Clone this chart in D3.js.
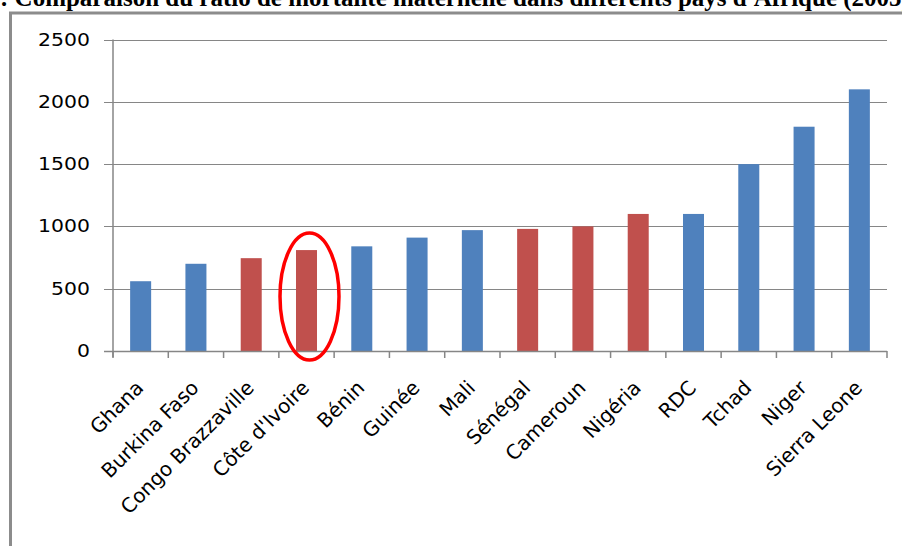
<!DOCTYPE html>
<html><head><meta charset="utf-8">
<script src="https://cdn.jsdelivr.net/npm/d3@7/dist/d3.min.js"></script>
<style>body{margin:0;background:#fff;}svg{display:block;}</style>
</head><body>
<svg id="c" width="902" height="546"></svg>
<script>
const categories = ["Ghana","Burkina Faso","Congo Brazzaville","Côte d'Ivoire","Bénin","Guinée","Mali","Sénégal","Cameroun","Nigéria","RDC","Tchad","Niger","Sierra Leone"];
const values = [560,700,745,810,840,910,970,980,1000,1100,1100,1500,1800,2100];
const highlighted = ["Congo Brazzaville","Côte d'Ivoire","Sénégal","Cameroun","Nigéria"];
const circled = "Côte d'Ivoire";
const yTicks = [0,500,1000,1500,2000,2500];
const title = ": Comparaison du ratio de mortalité maternelle dans différents pays d'Afrique (2005)";

const svg = d3.select("#c");
const L = 113, R = 887, T = 39.5, B = 351;
const x = d3.scaleBand().domain(categories).range([L, R]).paddingInner(0.62).paddingOuter(0.31);
const y = d3.scaleLinear().domain([0, 2500]).range([B, T]);
const grey = "#868686";

// title (clipped at top, as in the reference)
svg.append("text").attr("x", 0).attr("y", 6)
  .attr("font-family", "Liberation Serif, Times New Roman, serif")
  .attr("font-weight", "bold").attr("font-size", 25)
  .text(title);

// frame
svg.append("path").attr("d", "M10.5,546 V13 H905").attr("fill", "none")
  .attr("stroke", "#8c8c8c").attr("stroke-width", 3);

// gridlines + y ticks
svg.append("g").selectAll("line").data(yTicks.filter(d => d > 0)).join("line")
  .attr("x1", L - 9).attr("x2", R).attr("y1", d => Math.round(y(d)) + 0.5).attr("y2", d => Math.round(y(d)) + 0.5)
  .attr("stroke", grey).attr("stroke-width", 1);

// y tick labels
svg.append("g").selectAll("text").data(yTicks).join("text")
  .attr("transform", d => `translate(90,${y(d) + 6}) scale(1.2,1)`)
  .attr("text-anchor", "end")
  .attr("font-family", "DejaVu Sans, sans-serif").attr("font-size", 17).attr("fill", "#000")
  .text(d => d);

// bars
svg.append("g").selectAll("rect").data(categories).join("rect")
  .attr("x", d => x(d)).attr("width", x.bandwidth())
  .attr("y", (d, i) => y(values[i])).attr("height", (d, i) => B - y(values[i]))
  .attr("fill", d => highlighted.includes(d) ? "#C0504D" : "#4F81BD");

// axes lines
svg.append("line").attr("x1", L).attr("x2", L).attr("y1", T).attr("y2", B + 6).attr("stroke", grey).attr("stroke-width", 1.5);
svg.append("line").attr("x1", L - 9).attr("x2", R).attr("y1", B + 0.5).attr("y2", B + 0.5).attr("stroke", grey).attr("stroke-width", 1.5);
// x ticks at band boundaries
const bounds = d3.range(categories.length + 1).map(i => L + i * (R - L) / categories.length);
svg.append("g").selectAll("line").data(bounds).join("line")
  .attr("x1", d => d).attr("x2", d => d).attr("y1", B).attr("y2", B + 7)
  .attr("stroke", grey).attr("stroke-width", 1.5);

// x labels
svg.append("g").selectAll("text").data(categories).join("text")
  .attr("transform", d => `translate(${x(d) + x.bandwidth() / 2 + 4},${B + 38}) rotate(-45)`)
  .attr("text-anchor", "end")
  .attr("font-family", "DejaVu Sans, sans-serif").attr("font-size", 20).attr("fill", "#000")
  .text(d => d);

// highlight ellipse
const ci = categories.indexOf(circled);
svg.append("ellipse")
  .attr("cx", x(circled) + x.bandwidth() / 2 + 3)
  .attr("cy", (y(values[ci]) - 17 + B + 9) / 2)
  .attr("rx", 29.5).attr("ry", (B + 9 - (y(values[ci]) - 17)) / 2)
  .attr("fill", "none").attr("stroke", "#FF0000").attr("stroke-width", 3.5);
</script>
</body></html>
